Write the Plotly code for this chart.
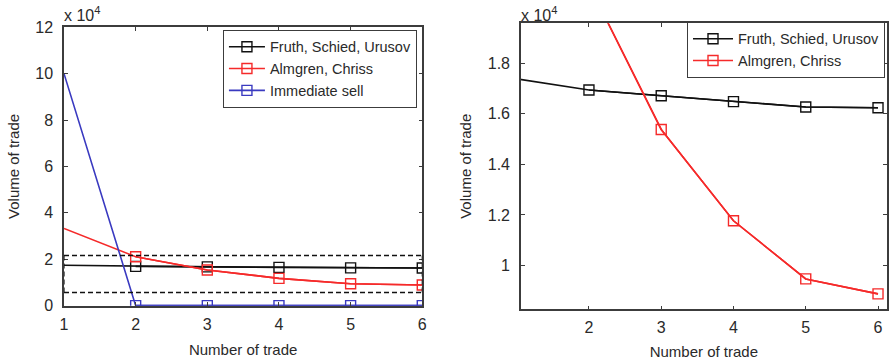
import plotly.graph_objects as go

trade = [1, 2, 3, 4, 5, 6]
# volumes in units of 1e4
fruth = [1.738, 1.694, 1.671, 1.648, 1.627, 1.624]
almgren = [3.33, 2.11, 1.538, 1.177, 0.947, 0.888]
immediate = [10, 0, 0, 0, 0, 0]
zoom_box_x = [1, 6]
zoom_box_y = [0.57, 2.16]

FONT = "Liberation Sans, Arial, sans-serif"
AX = "#3c3c3c"
TXT = "#2a2a2a"
BLACK = "#111111"
RED = "#f52a2a"
BLUE = "#3a3ac0"

fig = go.Figure()

def add(x, y, name, color, xa, ya):
    leg = "legend" if xa == "x" else "legend2"
    # full line (first point drawn without marker, as in the reference)
    fig.add_trace(go.Scatter(
        x=x, y=y, name=name, mode="lines",
        line=dict(color=color, width=1.6),
        xaxis=xa, yaxis=ya, showlegend=False, legend=leg, hoverinfo="skip",
    ))
    fig.add_trace(go.Scatter(
        x=x[1:], y=y[1:], name=name, mode="lines+markers",
        line=dict(color=color, width=1.6),
        marker=dict(symbol="square-open", size=10, color=color, line=dict(width=1.4, color=color)),
        xaxis=xa, yaxis=ya, showlegend=True, legend=leg,
    ))

add(trade, fruth, "Fruth, Schied, Urusov", BLACK, "x", "y")
add(trade, almgren, "Almgren, Chriss", RED, "x", "y")
add(trade, immediate, "Immediate sell", BLUE, "x", "y")
add(trade, fruth, "Fruth, Schied, Urusov", BLACK, "x2", "y2")
add(trade, almgren, "Almgren, Chriss", RED, "x2", "y2")

# dashed zoom rectangle on the left panel
for yv in zoom_box_y:
    fig.add_shape(type="line", xref="x", yref="y", x0=zoom_box_x[0], x1=zoom_box_x[1], y0=yv, y1=yv,
                  line=dict(color=BLACK, width=1.6, dash="5px,3px"))
for xv in zoom_box_x:
    fig.add_shape(type="line", xref="x", yref="y", x0=xv, x1=xv, y0=zoom_box_y[0], y1=zoom_box_y[1],
                  line=dict(color=BLACK, width=1.2, dash="5px,3px"))

axis_common = dict(showgrid=False, zeroline=False, showline=True, linecolor=AX, linewidth=1.5,
                   mirror="ticks", ticks="inside", ticklen=4, tickcolor=AX, tickwidth=1,
                   automargin=False,
                   tickfont=dict(family=FONT, size=16, color=TXT))

fig.update_layout(
    width=889, height=363,
    margin=dict(l=0, r=0, t=0, b=0),
    paper_bgcolor="white", plot_bgcolor="white",
    font=dict(family=FONT, color=TXT),
    xaxis=dict(domain=[0.072, 0.475], range=[1, 6], tickvals=trade, anchor="y", ticklabelstandoff=3,
               title=dict(text="Number of trade", font=dict(size=15), standoff=13), **axis_common),
    yaxis=dict(domain=[0.158, 0.925], range=[0, 12], tickvals=[0, 2, 4, 6, 8, 10, 12], anchor="x",
               ticklabelstandoff=6,
               title=dict(text="Volume of trade", font=dict(size=15), standoff=12), **axis_common),
    xaxis2=dict(domain=[0.586, 0.9974], range=[1.059, 6.12], tickvals=[2, 3, 4, 5, 6], anchor="y2",
                ticklabelstandoff=3,
                title=dict(text="Number of trade", font=dict(size=15), standoff=11), **axis_common),
    yaxis2=dict(domain=[0.148, 0.936], range=[0.827, 1.958], tickvals=[1, 1.2, 1.4, 1.6, 1.8],
                ticktext=["1", "1.2", "1.4", "1.6", "1.8"], anchor="x2", ticklabelstandoff=6,
                title=dict(text="Volume of trade", font=dict(size=15), standoff=12), **axis_common),
    legend=dict(x=0.469, y=0.918, xanchor="right", yanchor="top", bgcolor="white",
                bordercolor=AX, borderwidth=1, font=dict(size=14.5, family=FONT, color=TXT),
                itemwidth=36, tracegroupgap=0),
    legend2=dict(x=0.9955, y=0.94, xanchor="right", yanchor="top", bgcolor="white",
                 bordercolor=AX, borderwidth=1, font=dict(size=14.5, family=FONT, color=TXT),
                 itemwidth=40, tracegroupgap=0),
    showlegend=True,
)

for xpos in [62 / 889, 519 / 889]:
    fig.add_annotation(text="x 10<sup>4</sup>", xref="paper", yref="paper", x=xpos, y=1 - 14 / 363,
                       xanchor="left", yanchor="middle", showarrow=False,
                       font=dict(family=FONT, size=16, color=TXT))

fig.write_html("out.html")
